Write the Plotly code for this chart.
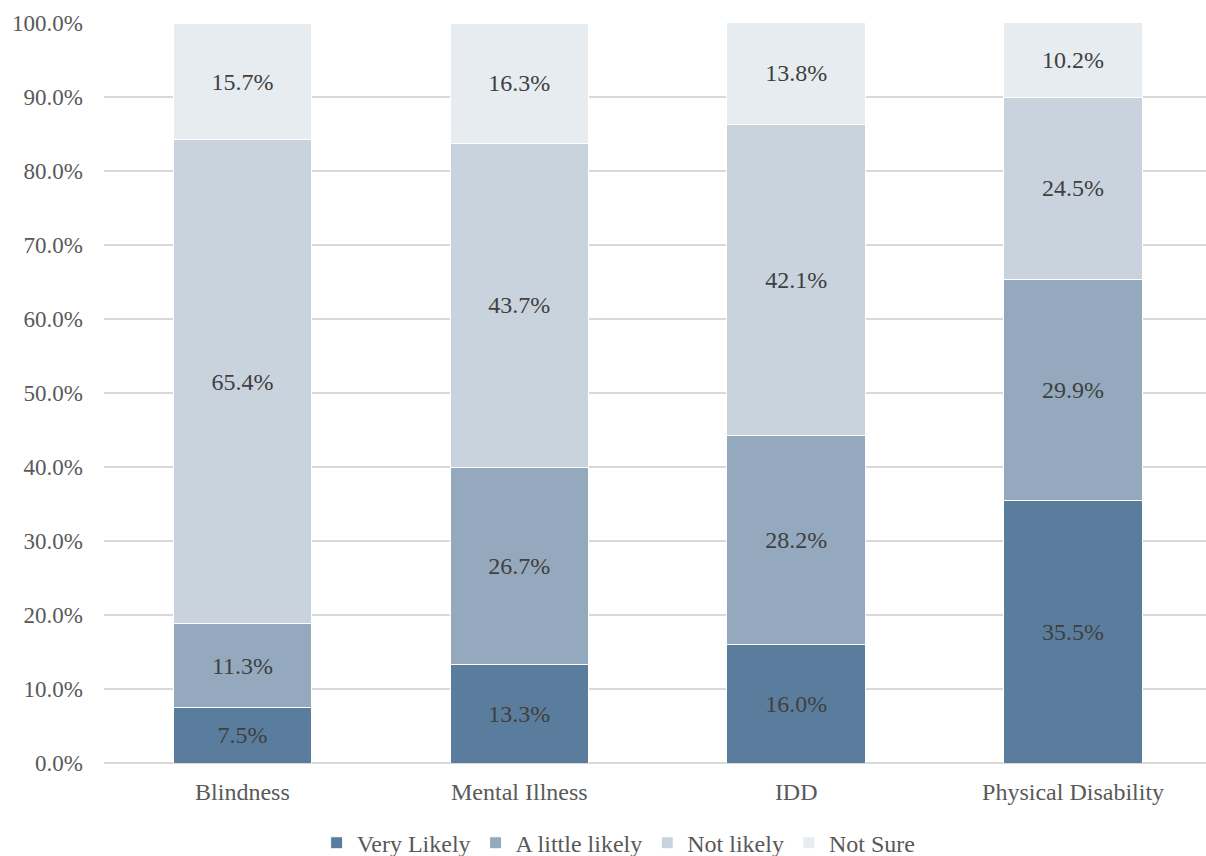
import plotly.graph_objects as go

categories = ["Blindness", "Mental Illness", "IDD", "Physical Disability"]
very_likely = [7.5, 13.3, 16.0, 35.5]
little_likely = [11.3, 26.7, 28.2, 29.9]
not_likely = [65.4, 43.7, 42.1, 24.5]
not_sure = [15.7, 16.3, 13.8, 10.2]

series = [
    ("Very Likely", very_likely, "#5a7d9e"),
    ("A little likely", little_likely, "#94a9bd"),
    ("Not likely", not_likely, "#c9d3de"),
    ("Not Sure", not_sure, "#e7ecf1"),
]

fig = go.Figure()
for name, vals, color in series:
    fig.add_trace(go.Bar(
        name=name, x=categories, y=vals,
        marker=dict(color=color, line=dict(color="white", width=1)),
        text=[f"{v:.1f}%" for v in vals],
        textposition="inside", insidetextanchor="middle", textangle=0,
        constraintext="none",
        textfont=dict(family="Liberation Serif", size=24, color="#404040"),
        width=0.5,
    ))

fig.update_layout(
    barmode="stack",
    width=1206, height=856,
    margin=dict(l=104, r=0, t=23, b=93, autoexpand=False),
    plot_bgcolor="white", paper_bgcolor="white",
    font=dict(family="Liberation Serif", size=24, color="#595959"),
    showlegend=True,
    legend=dict(orientation="h", x=0.467, xanchor="center",
                yref="container", y=0.015, yanchor="middle",
                font=dict(size=24, color="#595959"), traceorder="normal",
                itemwidth=30),
    bargap=0.5,
)
fig.update_yaxes(range=[0, 100], dtick=10, ticksuffix="%", tickformat=".1f",
                 showgrid=True, gridcolor="#d9d9d9", gridwidth=1.5,
                 zeroline=True, zerolinecolor="#d9d9d9", zerolinewidth=1.5,
                 ticks="", ticklabelstandoff=20, tickfont=dict(size=23, color="#595959"))
fig.update_xaxes(range=[-0.5, 3.48], showgrid=False, ticks="", ticklabelstandoff=12,
                 tickfont=dict(size=24, color="#595959"))

fig.write_html("out.html")
